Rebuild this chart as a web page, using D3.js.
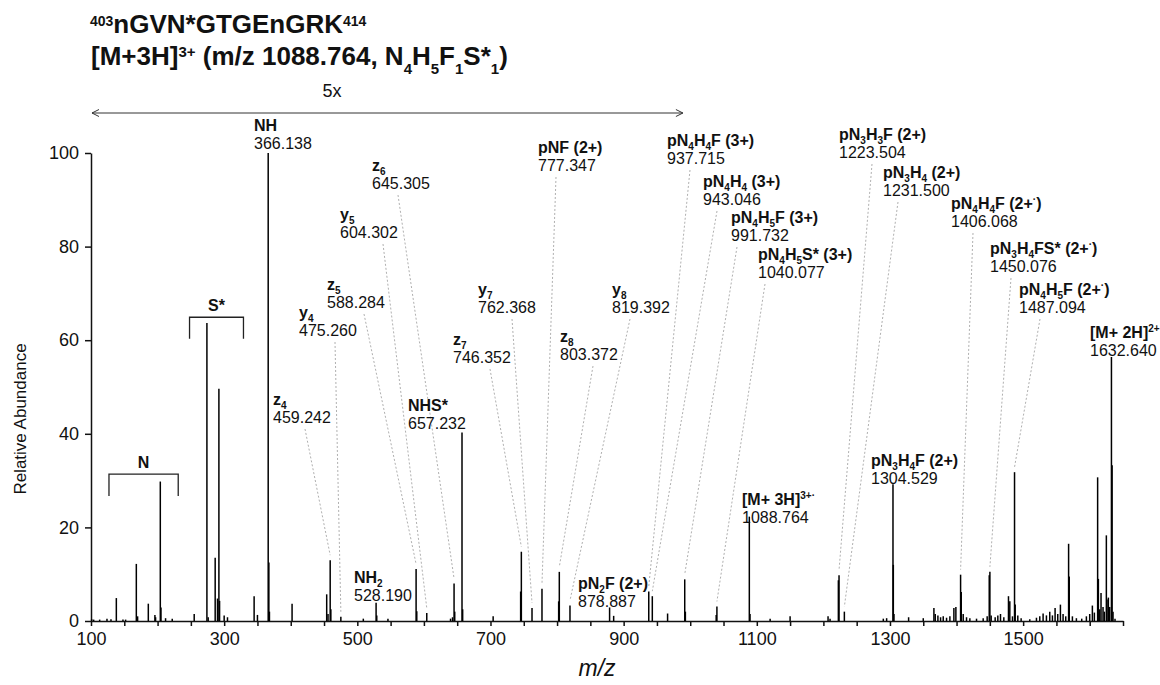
<!DOCTYPE html>
<html lang="en">
<head>
<meta charset="utf-8">
<title>Spectrum</title>
<script src="https://cdn.jsdelivr.net/npm/d3@7"></script>
<style>
  body { margin: 0; background: #fff; }
  text { font-family: "Liberation Sans", Arial, sans-serif; fill: #111; }
</style>
</head>
<body>
<div id="chart"></div>
<script>
// peaks (m/z, relative abundance as drawn; below ~990 shown at 5x)
const peakMz = [101, 104, 113, 124, 130, 138.05, 148, 152, 168.07, 170, 186.08, 196, 197, 204.09, 205.09, 212, 222,
  255, 274.09, 276, 286.5, 290, 292.1, 293.1, 300, 305, 345, 350, 366.14, 367.14, 368, 402,
  454, 456, 459.24, 460.24, 475.26, 509, 528.19, 529.2, 546, 588.28, 589.3, 604.3, 640, 643, 645.3, 646.3,
  657.23, 658.2, 704, 745.3, 746.35, 762.37, 777.35, 802.4, 803.37, 819.39, 878.89, 885,
  937.72, 943.05, 966, 991.73, 992.7, 1039, 1040.08, 1088.76, 1089.8,
  1120, 1150, 1207, 1210, 1222.5, 1223.5, 1231.5, 1290, 1295, 1304.53, 1305.03, 1306, 1328, 1350,
  1366, 1368, 1372, 1376, 1380, 1385, 1390, 1396, 1399, 1406.07, 1407.07, 1410, 1415, 1420, 1430, 1440,
  1446, 1449.1, 1450.08, 1452, 1458, 1462, 1466, 1471, 1478, 1480, 1484, 1487.09, 1488.1, 1492, 1497,
  1510, 1520, 1525, 1530, 1535, 1540, 1544, 1548, 1552, 1556, 1560, 1564, 1568.3, 1569.3, 1574, 1580, 1588,
  1595, 1600, 1604, 1607, 1611.9, 1613, 1615, 1617, 1620, 1622, 1625, 1626, 1628, 1630, 1632.64, 1633.64, 1635, 1638];
const peakInt = [0.4, 0.3, 0.3, 0.5, 0.4, 4.9, 0.3, 0.3, 12.2, 1.0, 3.7, 1.3, 0.8, 29.8, 2.9, 0.6, 0.5,
  1.5, 63.7, 0.8, 13.5, 4.8, 49.6, 4.3, 1.2, 0.8, 5.3, 1.3, 100, 12.5, 2.0, 3.7,
  5.7, 1.5, 13.0, 2.5, 0.9, 0.5, 3.9, 1.2, 0.5, 11.1, 2.1, 1.7, 0.5, 0.8, 8.0, 2.0,
  40.3, 2.5, 1.0, 6.3, 14.8, 2.8, 6.9, 4.2, 10.5, 3.3, 2.9, 1.1,
  6.3, 5.3, 1.6, 8.9, 2.0, 1.3, 3.1, 22.3, 1.5,
  0.5, 1.0, 1.0, 0.5, 8.7, 9.8, 2.0, 0.5, 0.6, 29.2, 12.0, 1.5, 0.8, 0.6,
  2.8, 1.5, 1.2, 0.8, 1.0, 0.7, 1.0, 2.8, 3.0, 9.9, 6.2, 1.5, 0.8, 0.6, 0.5, 0.6,
  1.0, 9.8, 10.5, 1.2, 0.8, 1.2, 1.5, 0.8, 5.3, 4.2, 1.0, 31.8, 3.5, 1.2, 0.6,
  0.4, 0.7, 1.0, 1.6, 1.2, 2.0, 1.2, 2.8, 1.5, 3.5, 1.5, 1.0, 16.5, 9.5, 1.0, 0.6, 0.5,
  1.0, 1.5, 3.3, 1.8, 30.7, 9.0, 2.5, 6.0, 3.0, 2.0, 18.3, 4.6, 5.0, 3.0, 56.4, 33.3, 2.0, 0.5];

// annotated ions: _x subscript, ^{..} superscript
const labelNames = ["NH", "z_6", "y_5", "z_5", "y_4", "z_4", "NH_2", "NHS*", "pNF (2+)", "y_7", "z_7", "z_8", "y_8",
  "pN_2F (2+)", "pN_4H_4F (3+)", "pN_4H_4 (3+)", "pN_4H_5F (3+)", "pN_4H_5S* (3+)", "[M+ 3H]^{3+·}",
  "pN_3H_3F (2+)", "pN_3H_4 (2+)", "pN_4H_4F (2+^{·})", "pN_3H_4FS* (2+^{·})", "pN_4H_5F (2+^{·})",
  "pN_3H_4F (2+)", "[M+ 2H]^{2+}"];
const labelValues = ["366.138", "645.305", "604.302", "588.284", "475.260", "459.242", "528.190", "657.232", "777.347",
  "762.368", "746.352", "803.372", "819.392", "878.887", "937.715", "943.046", "991.732", "1040.077", "1088.764",
  "1223.504", "1231.500", "1406.068", "1450.076", "1487.094", "1304.529", "1632.640"];
const labelMz = labelValues.map(Number);

// label placement in px: [left, name baseline, leader start x or null]
const labelPos = [[254, 131, null], [372, 171, 398], [340, 220, 383], [327, 290, 364], [299, 318, 335], [273, 405, 305],
  [354, 583, null], [408, 411, null], [538, 153, 556], [478, 295, 512], [453, 345, 490], [560, 342, 593],
  [612, 295, 630], [578, 589, null], [667, 146, 690], [703, 187, 717], [731, 223, 737], [758, 260, 765],
  [742, 505, null], [839, 140, 872], [883, 178, 898], [951, 209, 973], [990, 254, 1011], [1019, 295, 1040],
  [871, 466, null], [1090, 338, null]];

const yTicks = [0, 20, 40, 60, 80, 100];
const xTicks = d3.range(100, 1651, 50);
const xLabels = [100, 300, 500, 700, 900, 1100, 1300, 1500];

const width = 1160, height = 685;
const svg = d3.select("#chart").append("svg")
  .attr("width", width)
  .attr("height", height);

const x = d3.scaleLinear().domain([100, 1650]).range([91, 1123]);
const y = d3.scaleLinear().domain([0, 100]).range([621, 153]);

// rich text: base / subscript / superscript pieces as tspans
function rich(sel, str, size, small, subShift, supShift) {
  const parts = [];
  let i = 0;
  while (i < str.length) {
    const c = str[i];
    if (c === "_" || c === "^") {
      let t;
      if (str[i + 1] === "{") {
        const j = str.indexOf("}", i);
        t = str.slice(i + 2, j);
        i = j + 1;
      } else {
        t = str[i + 1];
        i += 2;
      }
      parts.push({ t: t, mode: c === "_" ? "sub" : "sup" });
    } else {
      let j = i;
      while (j < str.length && str[j] !== "_" && str[j] !== "^") j++;
      parts.push({ t: str.slice(i, j), mode: "base" });
      i = j;
    }
  }
  let cur = 0;
  parts.forEach(p => {
    const off = p.mode === "sub" ? subShift : (p.mode === "sup" ? -supShift : 0);
    sel.append("tspan")
      .attr("dy", off - cur)
      .attr("font-size", p.mode === "base" ? size : small)
      .text(p.t);
    cur = off;
  });
}

// title
const t1 = svg.append("text").attr("x", 90).attr("y", 33).attr("font-weight", "bold").attr("font-size", 26);
rich(t1, "^{403}nGVN*GTGEnGRK^{414}", 26, 14, 0, 7);
const t2 = svg.append("text").attr("x", 91).attr("y", 65).attr("font-weight", "bold").attr("font-size", 26);
rich(t2, "[M+3H]^{3+} (m/z 1088.764, N_4H_5F_1S*_1)", 26, 15, 9, 8);

// y axis
const yAxis = svg.append("g")
  .attr("transform", `translate(${x(100)},0)`)
  .call(d3.axisLeft(y).tickValues(yTicks).tickSize(6).tickSizeOuter(0).tickPadding(6));

// x axis
const xAxis = svg.append("g")
  .attr("transform", `translate(0,${y(0)})`)
  .call(d3.axisBottom(x).tickValues(xTicks).tickSize(5).tickSizeOuter(0).tickPadding(6)
    .tickFormat(d => xLabels.includes(d) ? d : ""));

[yAxis, xAxis].forEach(g => {
  g.select(".domain").attr("stroke", "#111").attr("stroke-width", 1.5);
  g.selectAll(".tick line").attr("stroke", "#111").attr("stroke-width", 1.5);
  g.selectAll(".tick text").attr("font-size", 18).attr("fill", "#222")
    .attr("font-family", "'Liberation Sans', Arial, sans-serif");
});

svg.append("text")
  .attr("transform", `translate(26,${(y(0) + y(100)) / 2 + 32}) rotate(-90)`)
  .attr("text-anchor", "middle")
  .attr("font-size", 17)
  .text("Relative Abundance");

svg.append("text")
  .attr("x", (x(100) + x(1650)) / 2 - 10)
  .attr("y", 676)
  .attr("text-anchor", "middle")
  .attr("font-size", 23)
  .attr("font-style", "italic")
  .text("m/z");

// peaks
const peaks = peakMz.map((m, i) => ({ mz: m, v: peakInt[i] }));
svg.append("g").selectAll("line")
  .data(peaks)
  .join("line")
  .attr("x1", d => x(d.mz))
  .attr("x2", d => x(d.mz))
  .attr("y1", y(0))
  .attr("y2", d => y(d.v))
  .attr("stroke", "#000")
  .attr("stroke-width", 1.5);

// 5x zoom arrow
const ay = 113, ax0 = x(101.5), ax1 = x(989);
svg.append("line").attr("x1", ax0).attr("x2", ax1).attr("y1", ay).attr("y2", ay)
  .attr("stroke", "#333").attr("stroke-width", 1);
svg.append("path").attr("d", `M${ax0 + 7},${ay - 3.5}L${ax0},${ay}L${ax0 + 7},${ay + 3.5}`)
  .attr("fill", "none").attr("stroke", "#333");
svg.append("path").attr("d", `M${ax1 - 7},${ay - 3.5}L${ax1},${ay}L${ax1 - 7},${ay + 3.5}`)
  .attr("fill", "none").attr("stroke", "#333");
svg.append("text").attr("x", 332).attr("y", 97).attr("text-anchor", "middle")
  .attr("font-size", 18).text("5x");

// N and S* brackets
function bracket(m0, m1, top, leg, name) {
  const bx0 = x(m0), bx1 = x(m1), by = y(top), bl = y(leg);
  svg.append("path").attr("d", `M${bx0},${bl}V${by}H${bx1}V${bl}`)
    .attr("fill", "none").attr("stroke", "#222").attr("stroke-width", 1.3);
  svg.append("text").attr("x", (bx0 + bx1) / 2).attr("y", by - 6).attr("text-anchor", "middle")
    .attr("font-weight", "bold").attr("font-size", 16).text(name);
}
bracket(127, 231, 31.4, 26.7, "N");
bracket(248, 329, 64.9, 60.3, "S*");

// annotations with dotted leaders
const nearestPeak = m => peaks.reduce((a, b) => Math.abs(b.mz - m) < Math.abs(a.mz - m) ? b : a);
const ann = svg.append("g");
labelNames.forEach((name, i) => {
  const [lx, ly, sx] = labelPos[i];
  if (sx !== null) {
    const pk = nearestPeak(labelMz[i]);
    ann.append("line")
      .attr("x1", sx).attr("y1", ly + 24)
      .attr("x2", x(pk.mz)).attr("y2", y(pk.v) - 5)
      .attr("stroke", "#b0b0b0").attr("stroke-width", 1)
      .attr("stroke-dasharray", "2,2");
  }
  const tn = ann.append("text").attr("x", lx).attr("y", ly)
    .attr("font-weight", "bold").attr("font-size", 16);
  rich(tn, name, 16, 10, 4, 6);
  ann.append("text").attr("x", lx).attr("y", ly + 18)
    .attr("font-size", 16).text(labelValues[i]);
});
</script>
</body>
</html>
